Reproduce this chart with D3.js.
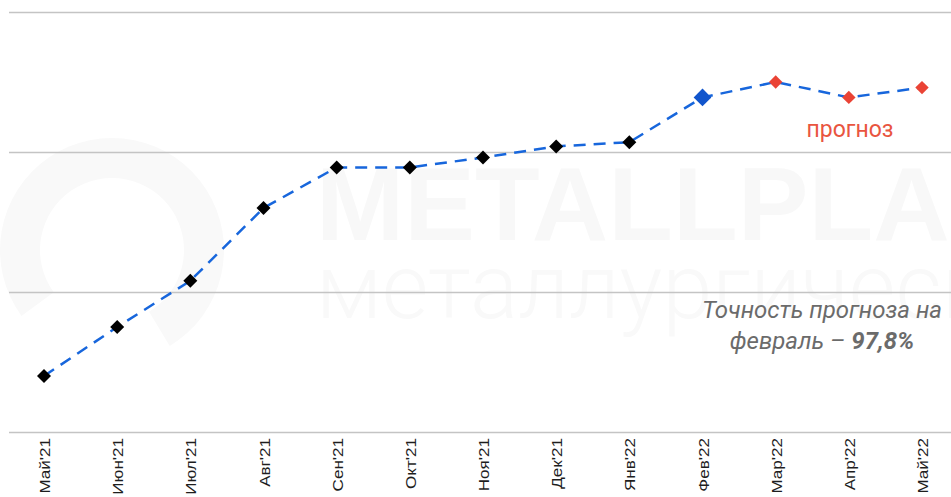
<!DOCTYPE html>
<html lang="ru">
<head>
<meta charset="utf-8">
<script src="https://cdn.jsdelivr.net/npm/d3@7"></script>
<style>
  html, body { margin: 0; padding: 0; background: #fff; }
  svg { display: block; }
</style>
</head>
<body>
<svg id="chart" width="951" height="497"></svg>
<script>
// Monthly price index, May 2021 – May 2022 (from Mar'22 on: forecast)
const months = ["Май'21", "Июн'21", "Июл'21", "Авг'21", "Сен'21", "Окт'21", "Ноя'21",
                "Дек'21", "Янв'22", "Фев'22", "Мар'22", "Апр'22", "Май'22"];
const values = [40, 75, 108, 160, 189, 189, 196, 204, 207, 239, 250, 239, 246];
// marker kind per month: fact, current month, forecast
const kinds  = ["fact", "fact", "fact", "fact", "fact", "fact", "fact",
                "fact", "fact", "current", "forecast", "forecast", "forecast"];
const gridValues = [0, 100, 200, 300];

const svg = d3.select("#chart");
const plot = { left: 9, right: 951, top: 12, bottom: 432 };

const x = d3.scalePoint().domain(months).range([44, 922]);
const y = d3.scaleLinear().domain([0, 300]).range([plot.bottom, plot.top]);

// faint brand watermark behind the plot
const wm = svg.append("g").attr("class", "watermark");
wm.append("path")
  .attr("d", d3.arc()({ innerRadius: 72, outerRadius: 112, startAngle: -2.2, endAngle: 2.6 }))
  .attr("transform", "translate(112,250)")
  .attr("fill", "#f9f9f9");
wm.append("text")
  .attr("x", 316).attr("y", 240)
  .attr("font-family", "Liberation Sans, Arial, sans-serif")
  .attr("font-weight", 700)
  .attr("font-size", 104)
  .attr("textLength", 775)
  .attr("lengthAdjust", "spacingAndGlyphs")
  .attr("fill", "#f8f8f8")
  .text("METALLPLANT");
wm.append("text")
  .attr("x", 316).attr("y", 318)
  .attr("font-family", "Roboto, sans-serif")
  .attr("font-weight", 300)
  .attr("font-size", 90)
  .attr("fill", "#f9f9f9")
  .text("металлургический");

// horizontal gridlines
const yAxis = d3.axisLeft(y).tickValues(gridValues).tickSize(-(plot.right - plot.left)).tickFormat("");
svg.append("g")
  .attr("transform", `translate(${plot.left},0)`)
  .call(yAxis)
  .call(g => g.select(".domain").remove())
  .call(g => g.selectAll(".tick line").attr("stroke", "#c4c4c4").attr("stroke-width", 1.3));

// month labels, rotated
const xAxis = d3.axisBottom(x).tickSize(0).tickPadding(0);
svg.append("g")
  .attr("transform", `translate(0,${plot.bottom})`)
  .call(xAxis)
  .call(g => g.select(".domain").remove())
  .call(g => g.selectAll(".tick text")
    .attr("transform", "translate(0,6) rotate(-90) scale(1.1,1)")
    .attr("text-anchor", "end")
    .attr("x", 0).attr("y", 0).attr("dy", "0.36em")
    .attr("font-family", "Liberation Sans, Arial, sans-serif")
    .attr("font-size", 15.5)
    .attr("fill", "#1e1e1e"));

// dashed price line
const line = d3.line().x((d, i) => x(months[i])).y(d => y(d));
svg.append("path")
  .datum(values)
  .attr("d", line)
  .attr("fill", "none")
  .attr("stroke", "#1766dc")
  .attr("stroke-width", 2.5)
  .attr("stroke-dasharray", "12,8");

// markers
const markerStyle = {
  fact:     { size: 125, fill: "#000000" },
  current:  { size: 200, fill: "#1155cc" },
  forecast: { size: 115, fill: "#ea4335" }
};
svg.append("g").selectAll("path")
  .data(values.map((v, i) => ({ m: months[i], v, k: kinds[i] })))
  .join("path")
  .attr("transform", d => `translate(${x(d.m)},${y(d.v)})`)
  .attr("d", d => d3.symbol(d3.symbolDiamond2, markerStyle[d.k].size)())
  .attr("fill", d => markerStyle[d.k].fill);

// annotations
svg.append("text")
  .attr("x", 850).attr("y", 137)
  .attr("text-anchor", "middle")
  .attr("font-family", "Roboto, sans-serif")
  .attr("font-size", 23)
  .attr("fill", "#e9553f")
  .text("прогноз");

const note = svg.append("text")
  .attr("text-anchor", "middle")
  .attr("font-family", "Roboto, sans-serif")
  .attr("font-style", "italic")
  .attr("font-size", 24)
  .attr("fill", "#6b6b6b");
note.append("tspan").attr("x", 822).attr("y", 318).text("Точность прогноза на");
const l2 = note.append("tspan").attr("x", 822).attr("y", 349);
l2.append("tspan").text("февраль – ");
l2.append("tspan").attr("font-weight", 700).text("97,8%");
</script>
</body>
</html>
